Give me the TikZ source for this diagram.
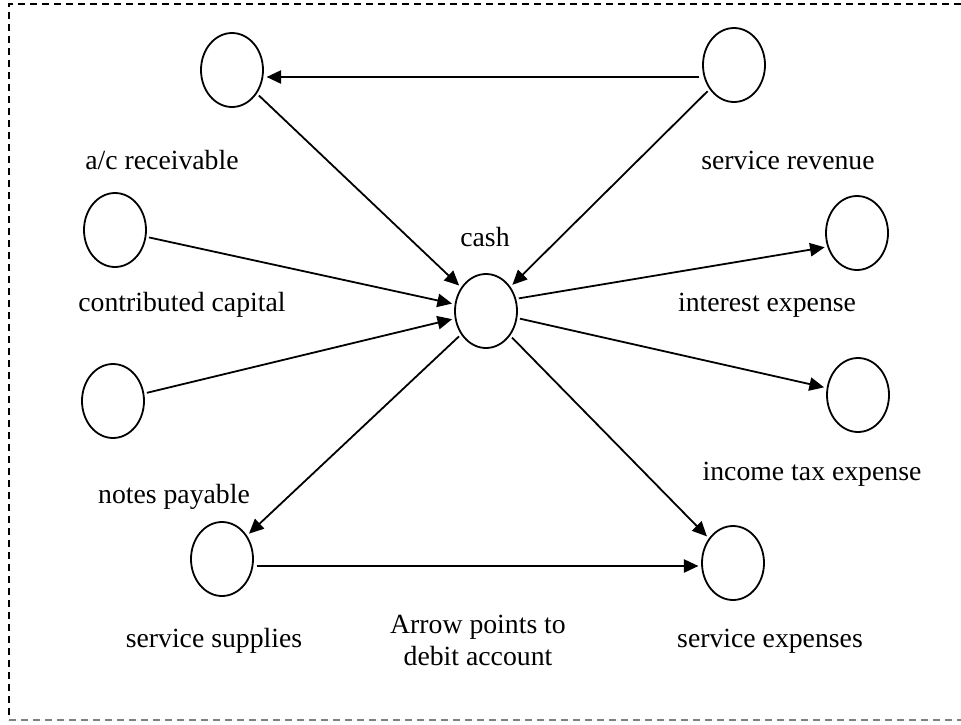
\documentclass[tikz,border=0pt]{standalone}
\usepackage{fontspec}
\setmainfont{Liberation Serif}
\usetikzlibrary{shapes.geometric,arrows.meta}

\tikzset{every picture/.style={line width=1.35pt}}
\tikzset{
	acct/.style={ellipse,draw,minimum width=46.5pt,minimum height=55.5pt,inner sep=0pt},
	lbl/.style={inner sep=0.75pt,font=\fontsize{20.8}{24}\selectfont,align=center},
	flow/.style={-{Triangle[length=11pt,width=10pt]},shorten >=2pt,shorten <=2pt},
	frame/.style={line width=0.8pt,dash pattern={on 5.5pt off 3.5pt}}
}

\begin{document}
\begin{tikzpicture}[x=0.75pt,y=0.75pt,yscale=-1,xscale=1]
	\useasboundingbox (0,0) rectangle (961,725);
	
	%Dashed frame
	\draw [frame] (961,4) -- (9,4) -- (9,720) ;
	\draw [frame,gray] (9,720) -- (961,720) ;
	
	%Shape: Ellipse [id:rec] 
	\node [acct] (rec) at (232,70) {};
	%Shape: Ellipse [id:rev] 
	\node [acct] (rev) at (734,65) {};
	%Shape: Ellipse [id:cap] 
	\node [acct] (cap) at (115,230) {};
	%Shape: Ellipse [id:cash] 
	\node [acct] (cash) at (486,311) {};
	%Shape: Ellipse [id:int] 
	\node [acct] (int) at (857,233) {};
	%Shape: Ellipse [id:np] 
	\node [acct] (np) at (113,401) {};
	%Shape: Ellipse [id:tax] 
	\node [acct] (tax) at (858,395) {};
	%Shape: Ellipse [id:sup] 
	\node [acct] (sup) at (222,559) {};
	%Shape: Ellipse [id:exp] 
	\node [acct] (exp) at (733,563) {};
	
	\coordinate (revout) at ([yshift=9pt]rev.west);
	\coordinate (supout) at ([yshift=5.25pt]sup.east);
	
	%Straight Lines [id:revrec] 
	\draw [flow] (revout) -- (revout -| rec.east) ;
	%Straight Lines [id:reccash] 
	\draw [flow] (rec) -- (cash) ;
	%Straight Lines [id:revcash] 
	\draw [flow] (rev) -- (cash) ;
	%Straight Lines [id:capcash] 
	\draw [flow] (cap) -- (cash) ;
	%Straight Lines [id:npcash] 
	\draw [flow] (np) -- (cash) ;
	%Straight Lines [id:cashint] 
	\draw [flow] (cash.22) -- (int.205) ;
	%Straight Lines [id:cashtax] 
	\draw [flow] (cash) -- (tax) ;
	%Straight Lines [id:cashsup] 
	\draw [flow] (cash) -- (sup) ;
	%Straight Lines [id:cashexp] 
	\draw [flow] (cash) -- (exp) ;
	%Straight Lines [id:supexp] 
	\draw [flow] (supout) -- (supout -| exp.west) ;
	
	% Text Node
	\node [lbl] (reclbl) at (162,160) {a/c receivable};
	% Text Node
	\node [lbl] (revlbl) at (788,160) {service revenue};
	% Text Node
	\node [lbl] (cashlbl) at (485,237) {cash};
	% Text Node
	\node [lbl] (caplbl) at (182,305) {contributed capital};
	% Text Node
	\node [lbl] (intlbl) at (767,305) {interest expense};
	% Text Node
	\node [lbl] (nplbl) at (174,497) {notes payable};
	% Text Node
	\node [lbl] (taxlbl) at (812,474) {income tax expense};
	% Text Node
	\node [lbl] (suplbl) at (214,641) {service supplies};
	% Text Node
	\node [lbl] (notelbl) at (478,640) {Arrow points to\\ debit account};
	% Text Node
	\node [lbl] (explbl) at (770,641) {service expenses};
	
\end{tikzpicture}
\end{document}
